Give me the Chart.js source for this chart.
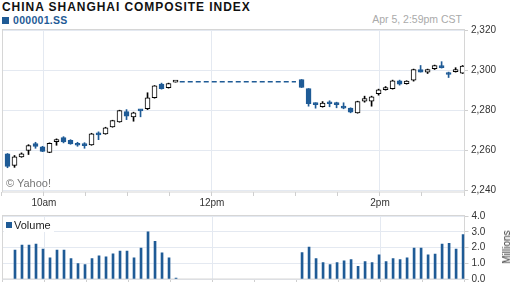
<!DOCTYPE html>
<html>
<head>
<meta charset="utf-8">
<script src="https://cdn.jsdelivr.net/npm/chart.js@4.4.1/dist/chart.umd.min.js"></script>
<style>
  body { margin: 0; width: 512px; height: 288px; background: #fff; position: relative; overflow: hidden;
         font-family: "Liberation Sans", Arial, sans-serif; }
  .abs { position: absolute; white-space: nowrap; }
  #title { left: 2px; top: 0.5px; font-size: 12px; line-height: 12px; font-weight: bold; letter-spacing: 0.95px; color: #111; }
  #sym { left: 13px; top: 15px; font-size: 10.5px; line-height: 10.5px; font-weight: bold; color: #1f5b96; letter-spacing: 0.3px; }
  #symbox { left: 2px; top: 17px; width: 7px; height: 7px; background: #1f5b96; }
  #stamp { right: 50px; top: 14px; font-size: 10.5px; line-height: 10.5px; color: #aaa; }
  #copy { left: 6px; top: 178px; font-size: 11px; line-height: 11px; color: #777; }
  #vol { left: 4px; top: 220px; padding: 0 3px 0 2px; height: 12px; background: #fff; font-size: 11px; line-height: 11px; color: #222; }
  #vol i { display: inline-block; width: 6px; height: 6px; background: #1f5b96; margin-right: 2px; vertical-align: 1px; }
  #mil { left: 507px; top: 247px; font-size: 10px; line-height: 10px; color: #333; transform: translate(-50%, -50%) rotate(-90deg); }
  canvas { position: absolute; left: 0; }
</style>
</head>
<body>
<div class="abs" id="title">CHINA SHANGHAI COMPOSITE INDEX</div>
<div class="abs" id="symbox"></div>
<div class="abs" id="sym">000001.SS</div>
<div class="abs" id="stamp">Apr 5, 2:59pm CST</div>
<canvas id="price" width="512" height="195" style="top:20px"></canvas>
<canvas id="volume" width="512" height="81" style="top:207px"></canvas>
<div class="abs" id="copy">© Yahoo!</div>
<div class="abs" id="vol"><i></i>Volume</div>
<div class="abs" id="mil">Millions</div>
<script>
// 5 minute bars, morning then afternoon session
const times = ['9:34','9:39','9:44','9:49','9:54','9:59','10:04','10:09','10:14','10:19','10:24','10:29','10:34',
  '10:39','10:44','10:49','10:54','10:59','11:04','11:09','11:14','11:19','11:24','11:29','11:34',
  '13:04','13:09','13:14','13:19','13:24','13:29','13:34','13:39','13:44','13:49','13:54','13:59',
  '14:04','14:09','14:14','14:19','14:24','14:29','14:34','14:39','14:44','14:49','14:54','14:59']
const opens = [2258.2,2252.5,2256.7,2259.9,2263.4,2261.7,2259.0,2264.3,2266.3,2265.0,2263.5,2262.8,2262.7,
  2268.5,2268.2,2271.7,2274.2,2279.3,2276.7,2280.2,2280.7,2286.2,2293.0,2291.2,2294.0,
  2295.3,2290.8,2283.7,2281.7,2283.5,2283.8,2282.0,2281.0,2278.7,2284.5,2284.5,2288.2,
  2290.3,2290.7,2294.7,2293.2,2295.0,2300.3,2299.0,2300.7,2301.8,2298.8,2299.2,2298.5]
const highs = [2258.4,2257.4,2258.7,2262.8,2264.0,2262.0,2263.7,2265.7,2266.8,2265.3,2264.0,2263.8,2268.5,
  2269.2,2271.5,2275.0,2280.0,2280.3,2279.0,2280.3,2288.7,2292.3,2293.5,2293.5,2294.2,
  2295.3,2290.8,2283.7,2284.3,2284.7,2284.0,2283.7,2281.2,2284.5,2287.0,2287.0,2290.5,
  2291.8,2295.0,2295.0,2294.7,2300.5,2302.3,2300.5,2302.5,2304.2,2299.0,2301.2,2302.3]
const lows = [2251.3,2251.5,2256.5,2257.9,2261.0,2259.3,2258.8,2262.5,2263.7,2263.0,2262.0,2261.0,2262.5,
  2265.3,2268.0,2271.5,2274.0,2275.3,2274.5,2276.7,2280.3,2286.0,2290.5,2291.0,2294.0,
  2291.3,2282.0,2281.0,2281.5,2281.7,2281.2,2280.7,2278.7,2278.5,2284.0,2282.0,2287.5,
  2290.0,2290.5,2292.5,2293.0,2294.5,2299.0,2298.3,2300.3,2301.0,2296.3,2299.0,2298.3]
const closes = [2252.0,2256.7,2258.3,2262.4,2261.9,2259.5,2263.5,2265.3,2264.2,2263.2,2262.5,2262.3,2268.2,
  2267.7,2271.2,2274.8,2279.8,2277.0,2278.7,2279.7,2286.2,2292.2,2290.7,2293.3,2294.2,
  2291.3,2283.2,2282.8,2283.5,2283.2,2282.7,2281.0,2279.0,2284.3,2285.8,2286.7,2290.2,
  2291.3,2294.7,2293.0,2294.5,2300.3,2299.0,2300.3,2302.2,2301.2,2297.8,2299.3,2302.0]
// millions of shares
const volumes = [null,1.84,2.15,2.15,2.21,1.90,1.35,1.84,1.84,1.29,0.98,0.92,1.29,
  1.47,1.41,1.60,1.78,1.78,1.35,1.96,3.00,2.39,1.66,1.35,0.06,
  1.68,2.02,1.29,1.04,0.92,1.04,1.16,1.23,0.80,1.10,1.04,1.53,
  1.10,1.29,1.23,1.35,1.96,1.96,1.53,1.59,2.21,2.27,1.90,2.82]
const lunchBreak = ['11:37', '13:00']
const hourLabels = {30: '10am', 150: '12pm', 270: '2pm'}

const BLUE = '#1f5b96'
const GRID = '#e4e9f1'
const FRAME = '#d6d6d6'
const font = {family: '"Liberation Sans", Arial, sans-serif', size: 10}

const toMin = t => { const [h, m] = t.split(':').map(Number); return h * 60 + m - 570 }
const xs = times.map(toMin)
const up = i => closes[i] >= opens[i]
const lastAm = times.indexOf('11:34')

// box around the plot area
const frame = {
    id: 'frame',
    beforeDatasetsDraw(chart) {
        const a = chart.chartArea, ctx = chart.ctx
        ctx.save()
        ctx.strokeStyle = FRAME
        ctx.lineWidth = 1
        ctx.strokeRect(Math.round(a.left) + 0.5, Math.round(a.top) - 0.5, Math.round(a.right - a.left), Math.round(a.bottom - a.top) + 0.5)
        ctx.restore()
    }
}

function timeAxis(labels, tickLen, h) {
    return {
        type: 'linear', min: 0, max: 330, offset: false,
        afterFit: s => { s.height = h },
        border: {display: false},
        grid: {
            offset: false,
            color: c => (c.tick && hourLabels[c.tick.value]) ? GRID : 'rgba(0,0,0,0)',
            tickColor: '#cfcfcf', tickLength: tickLen
        },
        ticks: {
            stepSize: 30, autoSkip: false, maxRotation: 0, padding: 1, color: '#333', font: font,
            callback: v => labels ? (hourLabels[v] || '') : ''
        }
    }
}

new Chart(document.getElementById('price'), {
    type: 'bar',
    data: {
        datasets: [{
            type: 'line',
            data: lunchBreak.map(t => ({x: toMin(t), y: closes[lastAm]})),
            borderColor: BLUE, borderWidth: 1.5, borderDash: [5, 3], pointRadius: 0,
            order: 0
        }, {
            data: xs.map((x, i) => ({x: x, y: [opens[i], closes[i]]})),
            backgroundColor: c => up(c.dataIndex) ? '#fff' : BLUE,
            borderColor: c => up(c.dataIndex) ? '#000' : BLUE,
            borderWidth: 1, borderSkipped: false, barThickness: 5, minBarLength: 2,
            grouped: false, order: 1
        }, {
            data: xs.map((x, i) => ({x: x, y: [lows[i], highs[i]]})),
            backgroundColor: c => up(c.dataIndex) ? '#000' : BLUE,
            borderWidth: 0, barThickness: 1, grouped: false, order: 2
        }]
    },
    options: {
        responsive: false, animation: false, devicePixelRatio: 1,
        layout: {padding: {left: 1.9, top: 10, right: 0, bottom: 0}},
        plugins: {legend: {display: false}, tooltip: {enabled: false}},
        scales: {
            x: timeAxis(true, 4, 23),
            y: {
                position: 'right', min: 2239.2, max: 2320,
                afterFit: s => { s.width = 48 },
                border: {display: false},
                grid: {color: GRID, tickColor: '#cfcfcf', tickLength: 4},
                ticks: {stepSize: 20, includeBounds: false, padding: 3, color: '#333', font: font,
                    callback: v => v.toLocaleString('en-US')}
            }
        }
    },
    plugins: [frame]
})

new Chart(document.getElementById('volume'), {
    type: 'bar',
    data: {
        datasets: [{
            data: xs.map((x, i) => ({x: x, y: volumes[i]})),
            backgroundColor: BLUE, barThickness: 2, borderWidth: 0
        }]
    },
    options: {
        responsive: false, animation: false, devicePixelRatio: 1,
        layout: {padding: {left: 2.4, top: 8, right: 0, bottom: 0}},
        plugins: {legend: {display: false}, tooltip: {enabled: false}},
        scales: {
            x: timeAxis(false, 3, 7),
            y: {
                position: 'right', min: 0, max: 4,
                afterFit: s => { s.width = 47.5 },
                border: {display: false},
                grid: {color: GRID, tickColor: '#cfcfcf', tickLength: 4},
                ticks: {stepSize: 1, padding: 3, color: '#333', font: font, callback: v => v.toFixed(1)}
            }
        }
    },
    plugins: [frame]
})
</script>
</body>
</html>
